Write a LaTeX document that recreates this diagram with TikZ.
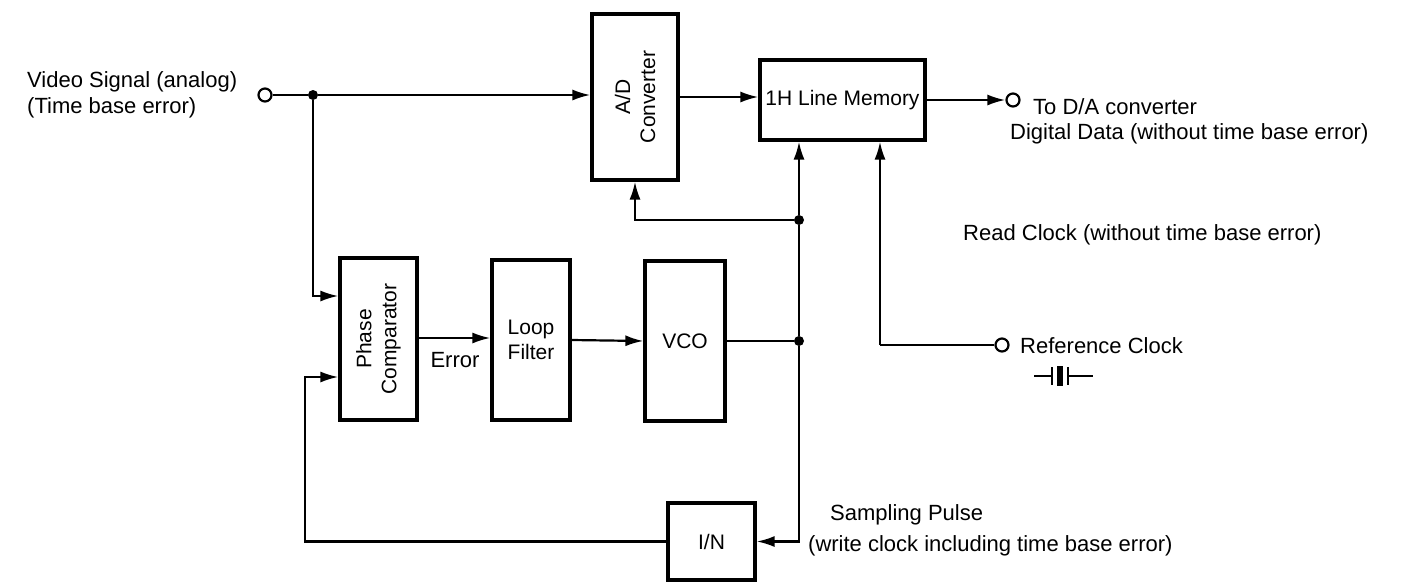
\documentclass[tikz,border=0pt]{standalone}
\usepackage{fontspec}
\setmainfont{Liberation Sans}
\usetikzlibrary{arrows.meta}
\begin{document}
\begin{tikzpicture}[x=1pt,y=-1pt,
  every node/.style={font=\fontsize{22}{26}\selectfont},
  blk/.style={draw, line width=3.2pt, rectangle, inner sep=0pt, font=\fontsize{21}{25}\selectfont},
  wire/.style={line width=2.2pt},
  arr/.style={wire, -{Latex[length=18pt,width=11pt]}},
  dot/.style={circle, fill, inner sep=0pt, minimum size=10pt},
  term/.style={circle, draw, line width=2.2pt, fill=white, inner sep=0pt, minimum size=13pt},
  lbl/.style={anchor=west, inner sep=0pt, align=left}]
\useasboundingbox (0,0) rectangle (1404,587);
% blocks
\node[blk, minimum width=86pt, minimum height=166pt] (ad) at (635,97) {};
\node[rotate=90, align=center, inner sep=0pt, font=\fontsize{21}{25}\selectfont] (adt) at (ad.center) {A/D\\Converter};
\node[blk, minimum width=165pt, minimum height=80pt] (mem) at (842.5,100) {1H Line Memory};
\node[blk, minimum width=77pt, minimum height=162pt] (pc) at (378.5,339) {};
\node[rotate=90, align=center, inner sep=0pt, font=\fontsize{21}{25}\selectfont] (pct) at (pc.center) {Phase\\Comparator};
\node[blk, minimum width=78pt, minimum height=160pt, align=center] (lf) at (531,340) {Loop\\Filter};
\node[blk, minimum width=80pt, minimum height=160pt] (vco) at (685,341) {VCO};
\node[blk, minimum width=87pt, minimum height=77pt] (in) at (711.5,541.5) {I/N};
% terminals and junctions
\node[term] (vin) at (265,95) {};
\node[term] (vout) at (1013,100) {};
\node[term] (ref) at (1002,345) {};
\node[dot] (j1) at (313,95) {};
\node[dot] (j2) at (799,220) {};
\node[dot] (j3) at (799,341) {};
\coordinate (c2) at (305,377);
\coordinate (rc) at (880,345);
% connectors
\draw[wire] (vin) -- (j1);
\draw[arr] (j1) -- (ad.west |- j1);
\draw[arr] (j1) |- (pc.west |- 0,296);
\draw[arr] (ad.east |- 0,97) -- (mem.west |- 0,97);
\draw[arr] (mem.east) -- (vout.west);
\draw[arr] (j2) -- (mem.south -| j2);
\draw[arr] (j2) -| (ad.south);
\draw[wire] (j3) -- (j2);
\draw[arr] (pc.east |- 0,338) -- (lf.west |- 0,338);
\draw[arr] (lf.east) -- (vco.west);
\draw[wire] (vco.east) -- (j3);
\draw[arr] (j3) |- (in.east);
\draw[arr] (in.west) -| (c2) -- (pc.west |- c2);
\draw[wire] (ref.west) -- (rc);
\draw[arr] (rc) -- (mem.south -| rc);
% labels
\node[lbl] (t1) at (27,95) {Video Signal (analog)\\(Time base error)};
\node[lbl] (t2) at (1033,107) {To D/A converter};
\node[lbl] (t3) at (1010,134) {Digital Data (without time base error)};
\node[lbl] (t4) at (963,235) {Read Clock (without time base error)};
\node[lbl] (t5) at (1020,346) {Reference Clock};
\node[lbl] (t6) at (830,515) {Sampling Pulse};
\node[lbl] (t7) at (808,546) {(write clock including time base error)};
\node[inner sep=0pt] (t8) at (455,360) {Error};
% crystal symbol
\draw[wire] (1034,376) -- (1052,376);
\draw[line width=2.8pt] (1052,367) -- (1052,385);
\fill (1057,366) rectangle (1063,386);
\draw[line width=2.8pt] (1068,367) -- (1068,385);
\draw[wire] (1068,376) -- (1093,376);
\end{tikzpicture}
\end{document}
